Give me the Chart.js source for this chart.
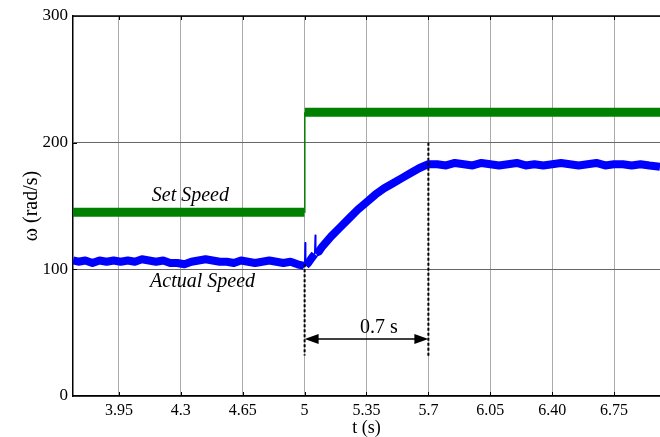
<!DOCTYPE html>
<html>
<head>
<meta charset="utf-8">
<script src="https://cdn.jsdelivr.net/npm/chart.js@4/dist/chart.umd.min.js"></script>
<style>
  body { margin: 0; background: #fff; overflow: hidden; }
</style>
</head>
<body>
<canvas id="myChart" width="660" height="437"></canvas>
<script>
// x ticks (time, s) and their printed labels
const tickValues = [3.95, 4.3, 4.65, 5, 5.35, 5.7, 6.05, 6.40, 6.75];
const tickLabels = ['3.95', '4.3', '4.65', '5', '5.35', '5.7', '6.05', '6.40', '6.75'];

// set speed (rad/s)
const setTime = [3.69, 4.999, 5.001, 7.01];
const setSpeed = [145, 145, 224, 224];

// actual speed (rad/s)
const actTime = [3.69, 3.72, 3.76, 3.80, 3.84, 3.88, 3.92, 3.96, 4.00, 4.04, 4.08, 4.12, 4.16, 4.20,
  4.24, 4.28, 4.32, 4.36, 4.40, 4.44, 4.48, 4.52, 4.56, 4.60, 4.64, 4.68, 4.72, 4.76, 4.80, 4.84,
  4.88, 4.92, 4.96, 4.99, 5.00, 5.003, 5.006, 5.02, 5.04, 5.057, 5.06, 5.063, 5.08, 5.10, 5.15,
  5.20, 5.25, 5.30, 5.35, 5.40, 5.45, 5.50, 5.55, 5.60, 5.65, 5.70, 5.75, 5.80, 5.85, 5.90, 5.95,
  6.00, 6.05, 6.10, 6.15, 6.20, 6.25, 6.30, 6.35, 6.40, 6.45, 6.50, 6.55, 6.60, 6.65, 6.70, 6.75,
  6.80, 6.85, 6.90, 6.95, 7.01];
const actualSpeed = [107, 106, 107, 105, 107, 106, 107, 106, 107, 106, 108, 107, 106, 107,
  105, 105, 104, 106, 107, 108, 107, 106, 106, 105, 107, 106, 105, 106, 107, 106,
  105, 106, 104, 103, 102, 121, 103, 105, 109, 112, 127, 113, 114, 118, 126,
  133, 140, 147, 153, 159, 164, 168, 172, 176, 180, 183, 183, 182, 184, 183, 182,
  184, 183, 182, 183, 184, 182, 183, 182, 183, 184, 183, 182, 183, 184, 182, 183,
  183, 182, 183, 182, 181];

// annotations (value = text baseline)
const labels = [
  { text: 'Set Speed', t: 4.354, v: 153.6 },
  { text: 'Actual Speed', t: 4.423, v: 86.3 }
];
const spanStart = 5.0, spanEnd = 5.7;
const spanText = '0.7 s';

const serif = "'Liberation Serif', 'Times New Roman', serif";

function toPoints(xs, ys) {
  return xs.map((x, i) => ({ x: x, y: ys[i] }));
}

// thin line for the near-vertical jumps, thick band elsewhere
function widthFor(thick) {
  return ctx => {
    const dx = ctx.p1.parsed.x - ctx.p0.parsed.x;
    const dy = ctx.p1.parsed.y - ctx.p0.parsed.y;
    return Math.abs(dy / dx) > 1000 ? 1.5 : thick;
  };
}

const extras = {
  id: 'extras',
  afterDatasetsDraw(chart) {
    const { ctx, chartArea } = chart;
    const xs = chart.scales.x, ys = chart.scales.y;
    ctx.save();

    // top frame line
    ctx.strokeStyle = '#000';
    ctx.lineWidth = 1.5;
    ctx.beginPath();
    ctx.moveTo(chartArea.left, chartArea.top);
    ctx.lineTo(chartArea.right, chartArea.top);
    ctx.stroke();

    // inward tick marks
    ctx.lineWidth = 1;
    tickValues.forEach(t => {
      const px = Math.round(xs.getPixelForValue(t)) + 0.5;
      ctx.beginPath();
      ctx.moveTo(px, chartArea.bottom);
      ctx.lineTo(px, chartArea.bottom - 4);
      ctx.moveTo(px, chartArea.top);
      ctx.lineTo(px, chartArea.top + 4);
      ctx.stroke();
    });
    [100, 200].forEach(v => {
      const py = Math.round(ys.getPixelForValue(v)) + 0.5;
      ctx.beginPath();
      ctx.moveTo(chartArea.left, py);
      ctx.lineTo(chartArea.left + 4, py);
      ctx.stroke();
    });

    // dotted markers
    ctx.lineWidth = 2;
    ctx.setLineDash([3, 2]);
    const x0 = xs.getPixelForValue(spanStart);
    const x1 = xs.getPixelForValue(spanEnd);
    ctx.beginPath();
    ctx.moveTo(x0, ys.getPixelForValue(104));
    ctx.lineTo(x0, ys.getPixelForValue(32));
    ctx.moveTo(x1, ys.getPixelForValue(200));
    ctx.lineTo(x1, ys.getPixelForValue(31));
    ctx.stroke();
    ctx.setLineDash([]);

    // double arrow
    const ay = ys.getPixelForValue(45);
    ctx.lineWidth = 1.5;
    ctx.beginPath();
    ctx.moveTo(x0 + 6, ay);
    ctx.lineTo(x1 - 6, ay);
    ctx.stroke();
    ctx.fillStyle = '#000';
    ctx.beginPath();
    ctx.moveTo(x0, ay);
    ctx.lineTo(x0 + 14, ay - 5);
    ctx.lineTo(x0 + 14, ay + 5);
    ctx.closePath();
    ctx.moveTo(x1, ay);
    ctx.lineTo(x1 - 14, ay - 5);
    ctx.lineTo(x1 - 14, ay + 5);
    ctx.closePath();
    ctx.fill();

    ctx.textAlign = 'center';
    ctx.textBaseline = 'alphabetic';
    ctx.font = '20px ' + serif;
    ctx.fillText(spanText, xs.getPixelForValue(5.42), ys.getPixelForValue(50));

    ctx.font = 'italic 20px ' + serif;
    labels.forEach(l => {
      ctx.fillText(l.text, xs.getPixelForValue(l.t), ys.getPixelForValue(l.v));
    });
    ctx.restore();
  }
};

new Chart(document.getElementById('myChart'), {
  type: 'line',
  data: {
    datasets: [
      {
        label: 'Set Speed',
        data: toPoints(setTime, setSpeed),
        borderColor: '#008000',
        borderWidth: 9,
        pointRadius: 0,
        tension: 0,
        segment: { borderWidth: widthFor(9) }
      },
      {
        label: 'Actual Speed',
        data: toPoints(actTime, actualSpeed),
        borderColor: '#0000ff',
        borderWidth: 8,
        pointRadius: 0,
        tension: 0,
        borderJoinStyle: 'round',
        segment: { borderWidth: widthFor(8) }
      }
    ]
  },
  options: {
    responsive: false,
    animation: false,
    devicePixelRatio: 1,
    layout: { padding: { top: 16, right: 0, left: 0, bottom: 0 } },
    plugins: { legend: { display: false }, tooltip: { enabled: false } },
    scales: {
      x: {
        type: 'linear',
        min: 3.69,
        max: 7.01,
        afterBuildTicks: scale => { scale.ticks = tickValues.map(v => ({ value: v })); },
        afterFit: scale => { scale.height = 41; },
        ticks: {
          padding: 5,
          color: '#000',
          font: { family: serif, size: 16 },
          callback: (v) => tickLabels[tickValues.indexOf(v)]
        },
        grid: { color: '#aaaaaa', lineWidth: 1, drawTicks: false },
        border: { color: '#000', width: 1.5 },
        title: {
          display: true,
          text: 't (s)',
          color: '#000',
          font: { family: serif, size: 18, lineHeight: 1.0 },
          padding: { top: 0, bottom: 0 }
        }
      },
      y: {
        min: 0,
        max: 300,
        afterFit: scale => { scale.width = 73; },
        ticks: {
          stepSize: 100,
          padding: 5,
          color: '#000',
          font: { family: serif, size: 17 }
        },
        grid: { color: '#666666', lineWidth: 1, drawTicks: false },
        border: { color: '#000', width: 1.5 },
        title: {
          display: true,
          text: 'ω (rad/s)',
          color: '#000',
          font: { family: serif, size: 20, lineHeight: 1.2 },
          padding: { top: 20, bottom: 0 }
        }
      }
    }
  },
  plugins: [extras]
});
</script>
</body>
</html>
